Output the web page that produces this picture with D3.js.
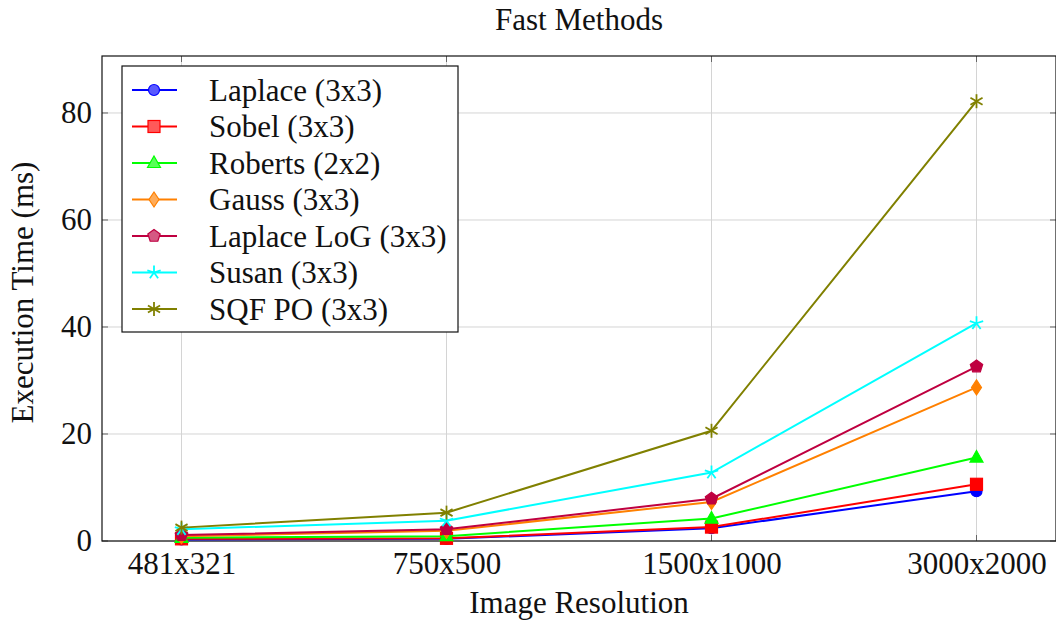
<!DOCTYPE html>
<html>
<head>
<meta charset="utf-8">
<script src="https://cdn.jsdelivr.net/npm/d3@7"></script>
<style>
  body { margin: 0; background: #fff; }
  text { font-family: "Liberation Serif", "DejaVu Serif", serif; fill: #111; }
</style>
</head>
<body>
<div class="chart"></div>
<script>
// values
var resolutions = ["481x321", "750x500", "1500x1000", "3000x2000"];
var seriesNames = ["Laplace (3x3)", "Sobel (3x3)", "Roberts (2x2)", "Gauss (3x3)",
                   "Laplace LoG (3x3)", "Susan (3x3)", "SQF PO (3x3)"];
var laplace    = [0.3, 0.4, 2.4, 9.3];
var sobel      = [0.4, 0.5, 2.6, 10.6];
var roberts    = [0.6, 0.9, 4.2, 15.6];
var gauss      = [0.9, 1.9, 7.3, 28.7];
var laplaceLog = [1.1, 2.2, 7.9, 32.6];
var susan      = [2.2, 3.8, 12.8, 40.7];
var sqfPo      = [2.5, 5.3, 20.6, 82.2];
var yTicks = [0, 20, 40, 60, 80];

var colors = ["#0000ff", "#ff0000", "#00ff00", "#ff8000", "#bf0040", "#00ffff", "#808000"];
var marks = ["circle", "square", "triangle", "diamond", "pentagon", "star", "asterisk"];
var allValues = [laplace, sobel, roberts, gauss, laplaceLog, susan, sqfPo];

var series = seriesNames.map(function (name, i) {
  return { name: name, values: allValues[i], color: colors[i], mark: marks[i] };
});

var svgWidth = 1056, svgHeight = 623;
var margin = { top: 56, right: 0, bottom: 82, left: 102 };
var width = svgWidth - margin.left - margin.right;
var height = svgHeight - margin.top - margin.bottom;
var fontSize = 31;

var svg = d3.select(".chart").append("svg")
  .attr("width", svgWidth)
  .attr("height", svgHeight);

var chartGroup = svg.append("g")
  .attr("transform", `translate(${margin.left}, ${margin.top})`);

var x = d3.scaleLinear().domain([-0.3, 3.3]).range([0, width]);
var y = d3.scaleLinear().domain([0, 90.65]).range([height, 0]);

// grid
chartGroup.append("g").selectAll("line.gx")
  .data(d3.range(resolutions.length))
  .join("line")
  .attr("x1", d => x(d)).attr("x2", d => x(d))
  .attr("y1", 0).attr("y2", height)
  .attr("stroke", "#d4d4d4").attr("stroke-width", 1);

chartGroup.append("g").selectAll("line.gy")
  .data(yTicks)
  .join("line")
  .attr("x1", 0).attr("x2", width)
  .attr("y1", d => y(d)).attr("y2", d => y(d))
  .attr("stroke", "#d4d4d4").attr("stroke-width", 1);

// inner tick marks on all four sides
var tickLen = 6;
var tg = chartGroup.append("g").attr("stroke", "#666").attr("stroke-width", 1);
d3.range(resolutions.length).forEach(function (d) {
  tg.append("line").attr("x1", x(d)).attr("x2", x(d)).attr("y1", height).attr("y2", height - tickLen);
  tg.append("line").attr("x1", x(d)).attr("x2", x(d)).attr("y1", 0).attr("y2", tickLen);
});
yTicks.forEach(function (d) {
  tg.append("line").attr("x1", 0).attr("x2", tickLen).attr("y1", y(d)).attr("y2", y(d));
  tg.append("line").attr("x1", width).attr("x2", width - tickLen).attr("y1", y(d)).attr("y2", y(d));
});

// axes (labels only, frame drawn separately)
var xAxis = d3.axisBottom(x)
  .tickValues(d3.range(resolutions.length))
  .tickFormat(i => resolutions[i])
  .tickSize(0)
  .tickPadding(11);

var yAxis = d3.axisLeft(y)
  .tickValues(yTicks)
  .tickSize(0)
  .tickPadding(10);

chartGroup.append("g")
  .attr("transform", `translate(0, ${height})`)
  .call(xAxis)
  .call(g => g.select(".domain").remove())
  .selectAll("text")
  .attr("font-size", fontSize)
  .attr("font-family", "Liberation Serif")
  .attr("fill", "#111");

chartGroup.append("g")
  .call(yAxis)
  .call(g => g.select(".domain").remove())
  .selectAll("text")
  .attr("font-size", fontSize)
  .attr("font-family", "Liberation Serif")
  .attr("fill", "#111");

// frame
chartGroup.append("rect")
  .attr("x", 0).attr("y", 0)
  .attr("width", width).attr("height", height)
  .attr("fill", "none")
  .attr("stroke", "#111")
  .attr("stroke-width", 1.2);

// marker drawing
function drawMark(g, kind, color, fillColor) {
  if (kind === "circle") {
    g.append("circle").attr("r", 5.5).attr("fill", fillColor).attr("stroke", color).attr("stroke-width", 1.2);
  } else if (kind === "square") {
    g.append("rect").attr("x", -6).attr("y", -6).attr("width", 12).attr("height", 12)
      .attr("fill", fillColor).attr("stroke", color).attr("stroke-width", 1.2);
  } else if (kind === "triangle") {
    g.append("path").attr("d", "M0,-7L6.5,4.5L-6.5,4.5Z")
      .attr("fill", fillColor).attr("stroke", color).attr("stroke-width", 1.2);
  } else if (kind === "diamond") {
    g.append("path").attr("d", "M0,-7.5L5,0L0,7.5L-5,0Z")
      .attr("fill", fillColor).attr("stroke", color).attr("stroke-width", 1.2);
  } else if (kind === "pentagon") {
    var pts = d3.range(5).map(function (k) {
      var a = -Math.PI / 2 + k * 2 * Math.PI / 5;
      return [6.5 * Math.cos(a), 6.5 * Math.sin(a)];
    });
    g.append("path").attr("d", "M" + pts.join("L") + "Z")
      .attr("fill", fillColor).attr("stroke", color).attr("stroke-width", 1.2);
  } else if (kind === "star") {
    d3.range(5).forEach(function (k) {
      var a = -Math.PI / 2 + k * 2 * Math.PI / 5;
      g.append("line").attr("x1", 0).attr("y1", 0)
        .attr("x2", 7 * Math.cos(a)).attr("y2", 7 * Math.sin(a))
        .attr("stroke", color).attr("stroke-width", 1.8);
    });
  } else if (kind === "asterisk") {
    d3.range(3).forEach(function (k) {
      var a = -Math.PI / 2 + k * Math.PI / 3;
      g.append("line")
        .attr("x1", -7 * Math.cos(a)).attr("y1", -7 * Math.sin(a))
        .attr("x2", 7 * Math.cos(a)).attr("y2", 7 * Math.sin(a))
        .attr("stroke", color).attr("stroke-width", 1.8);
    });
  }
}

var line = d3.line()
  .x((d, i) => x(i))
  .y(d => y(d));

// series: line then marks, in order
series.forEach(function (s) {
  var sg = chartGroup.append("g").attr("class", "series");
  sg.append("path")
    .attr("d", line(s.values))
    .attr("fill", "none")
    .attr("stroke", s.color)
    .attr("stroke-width", 2);
  s.values.forEach(function (v, i) {
    var mg = sg.append("g").attr("transform", `translate(${x(i)}, ${y(v)})`);
    drawMark(mg, s.mark, s.color, s.color);
  });
});

// legend
var legend = svg.append("g").attr("transform", "translate(122, 66)");
legend.append("rect")
  .attr("width", 336).attr("height", 266)
  .attr("fill", "#fff").attr("stroke", "#111").attr("stroke-width", 1.2);

series.forEach(function (s, i) {
  var row = legend.append("g").attr("transform", `translate(0, ${24 + i * 36.5})`);
  row.append("line")
    .attr("x1", 10).attr("x2", 55).attr("y1", 0).attr("y2", 0)
    .attr("stroke", s.color).attr("stroke-width", 2);
  var mg = row.append("g").attr("transform", "translate(32, 0)");
  drawMark(mg, s.mark, s.color, d3.interpolateRgb(s.color, "#fff")(0.35));
  row.append("text")
    .attr("x", 87).attr("y", 0).attr("dy", "0.35em")
    .attr("font-size", fontSize)
    .text(s.name);
});

// titles
svg.append("text")
  .attr("x", margin.left + width / 2).attr("y", 30)
  .attr("text-anchor", "middle")
  .attr("font-size", fontSize)
  .text("Fast Methods");

svg.append("text")
  .attr("x", margin.left + width / 2).attr("y", 613)
  .attr("text-anchor", "middle")
  .attr("font-size", fontSize)
  .text("Image Resolution");

svg.append("text")
  .attr("transform", `translate(33, ${margin.top + height / 2 - 6}) rotate(-90)`)
  .attr("text-anchor", "middle")
  .attr("font-size", fontSize)
  .text("Execution Time (ms)");
</script>
</body>
</html>
